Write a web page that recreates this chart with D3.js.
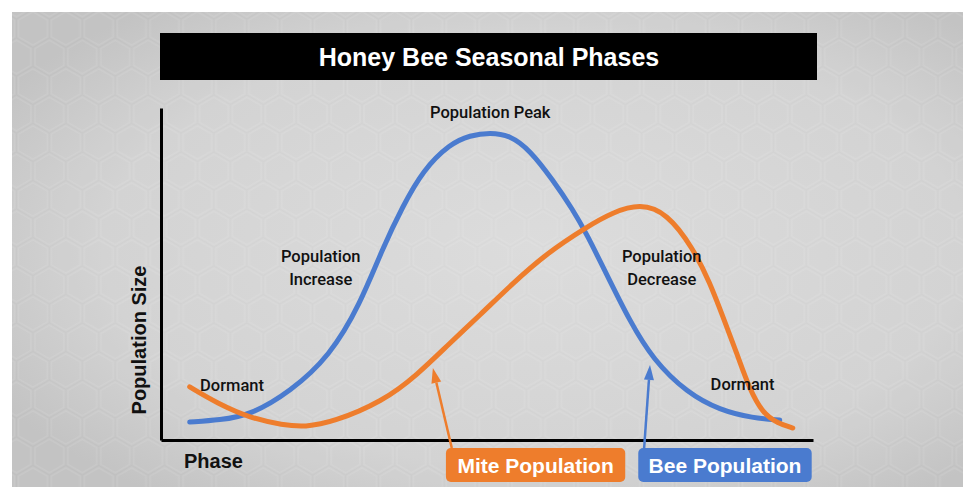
<!DOCTYPE html>
<html>
<head>
<meta charset="utf-8">
<script src="https://cdn.jsdelivr.net/npm/d3@7"></script>
<style>
  body { margin: 0; background: #fff; }
  svg text { font-family: "Liberation Sans", Arial, sans-serif; }
  svg text.phase-label { font-family: Roboto, "Liberation Sans", sans-serif; }
</style>
</head>
<body>
<div id="chart"></div>
<script>
// phase runs 0..100 along x, population size 0..100 up y (relative units)
const beePhase = [4.4, 9.0, 13.7, 19.8, 25.9, 30.5, 34.0, 37.1, 40.2, 44.3, 47.4, 50.5, 53.5, 56.6, 60.1, 63.2, 65.3, 68.4, 71.9, 75.5, 80.7, 85.7, 90.8, 94.9];
const beeSize  = [5.4, 6.0, 7.5, 14.5, 25.3, 40.7, 57.8, 70.5, 81.3, 89.2, 91.8, 92.6, 91.8, 87.3, 78.3, 69.3, 62.0, 49.7, 35.8, 24.1, 14.2, 9.0, 6.6, 6.0];

const mitePhase = [4.4, 8.6, 13.7, 18.7, 22.1, 26.4, 34.0, 39.3, 44.3, 48.9, 54.0, 59.2, 65.3, 69.3, 73.5, 77.6, 81.6, 84.2, 86.2, 88.3, 90.3, 92.3, 94.5, 96.9];
const miteSize  = [16.0, 11.1, 6.6, 4.5, 3.9, 5.4, 11.6, 19.6, 29.2, 37.6, 47.3, 56.3, 64.2, 68.6, 71.2, 68.4, 57.8, 47.3, 37.0, 26.2, 15.1, 8.1, 5.1, 3.6];

// annotations: text lines, phase, size
const phaseLabels = [
  { lines: ["Population Peak"], x: 50.5, y: 97.0 },
  { lines: ["Population", "Increase"], x: 24.5, y: 53.5 },
  { lines: ["Population", "Decrease"], x: 76.8, y: 53.5 },
  { lines: ["Dormant"], x: 10.9, y: 14.8 },
  { lines: ["Dormant"], x: 89.2, y: 15.1 }
];

// legend boxes and the point on the curve each arrow touches
const legendNames = ["Mite Population", "Bee Population"];
const legendStart = [43.7, 73.2];
const legendEnd   = [71.2, 99.8];
const arrowTipX   = [41.7, 75.0];
const arrowTipY   = [21.7, 22.6];
const arrowBaseX  = [44.6, 74.1];
const colors = ["#ee7d2c", "#4a7bcf"];

const W = 966, H = 487;
const margin = { top: 108, right: 153, bottom: 47, left: 161 };
const width = W - margin.left - margin.right,
      height = H - margin.top - margin.bottom;

const svg = d3.select("#chart").append("svg")
    .attr("width", W)
    .attr("height", H);

// grey honeycomb backdrop
const defs = svg.append("defs");
const grad = defs.append("radialGradient")
    .attr("id", "bggrad")
    .attr("cx", "55%").attr("cy", "50%").attr("r", "65%");
grad.append("stop").attr("offset", "0%").attr("stop-color", "#dadada");
grad.append("stop").attr("offset", "70%").attr("stop-color", "#d1d1d1");
grad.append("stop").attr("offset", "100%").attr("stop-color", "#c0c0c0");

const hexR = 19;
const hexW = Math.sqrt(3) * hexR;
const pat = defs.append("pattern")
    .attr("id", "hex")
    .attr("patternUnits", "userSpaceOnUse")
    .attr("width", hexW)
    .attr("height", hexR * 3);
function hexPath(cx, cy, r) {
  let pts = d3.range(6).map(function(i) {
    let a = Math.PI / 3 * i + Math.PI / 6;
    return [cx + r * Math.cos(a), cy + r * Math.sin(a)];
  });
  return "M" + pts.join("L") + "Z";
}
[[hexW / 2, 0], [0, hexR * 1.5], [hexW, hexR * 1.5], [hexW / 2, hexR * 3]].forEach(function(c) {
  pat.append("path")
      .attr("d", hexPath(c[0], c[1], hexR - 2))
      .attr("fill", "#ffffff")
      .attr("fill-opacity", 0.05)
      .attr("stroke", "#ffffff")
      .attr("stroke-opacity", 0.09)
      .attr("stroke-width", 2);
});

svg.append("rect")
    .attr("x", 12).attr("y", 12)
    .attr("width", 951).attr("height", H - 12)
    .attr("fill", "url(#bggrad)");
svg.append("rect")
    .attr("x", 12).attr("y", 12)
    .attr("width", 951).attr("height", H - 12)
    .attr("fill", "url(#hex)");

// title bar
svg.append("rect")
    .attr("x", 160).attr("y", 33)
    .attr("width", 657).attr("height", 47)
    .attr("fill", "#000");
svg.append("text")
    .attr("x", 489).attr("y", 66)
    .attr("text-anchor", "middle")
    .attr("fill", "#fff")
    .style("font-size", "25px")
    .style("font-weight", "bold")
    .text("Honey Bee Seasonal Phases");

const g = svg.append("g")
    .attr("transform", "translate(" + margin.left + "," + margin.top + ")");

const x = d3.scaleLinear().domain([0, 100]).range([0, width]);
const y = d3.scaleLinear().domain([0, 100]).range([height, 0]);

// axes without ticks
g.append("g")
    .attr("transform", "translate(0," + height + ")")
    .call(d3.axisBottom(x).tickValues([]).tickSizeOuter(0))
    .select(".domain").attr("stroke", "#000").attr("stroke-width", 3);
g.append("g")
    .call(d3.axisLeft(y).tickValues([]).tickSizeOuter(0))
    .select(".domain").attr("stroke", "#000").attr("stroke-width", 3);

g.append("text")
    .attr("transform", "rotate(-90)")
    .attr("x", -(height - 100))
    .attr("y", -15)
    .attr("text-anchor", "middle")
    .attr("fill", "#111")
    .style("font-size", "20px")
    .style("font-weight", "bold")
    .text("Population Size");

g.append("text")
    .attr("x", 23)
    .attr("y", height + 28)
    .attr("fill", "#111")
    .style("font-size", "20px")
    .style("font-weight", "bold")
    .text("Phase");

// curves
const line = d3.line()
    .x(function(d) { return x(d[0]); })
    .y(function(d) { return y(d[1]); })
    .curve(d3.curveBasis);

const series = [
  d3.zip(mitePhase, miteSize),
  d3.zip(beePhase, beeSize)
];

// bee first, mite drawn over it
[1, 0].forEach(function(i) {
  g.append("path")
      .datum(series[i])
      .attr("d", line)
      .attr("fill", "none")
      .attr("stroke", colors[i])
      .attr("stroke-width", 5)
      .attr("stroke-linecap", "round");
});

// phase labels
phaseLabels.forEach(function(l) {
  let t = g.append("text")
      .attr("class", "phase-label")
      .attr("x", x(l.x))
      .attr("y", y(l.y))
      .attr("text-anchor", "middle")
      .attr("fill", "#111")
      .style("font-size", "16.5px")
      .style("font-weight", "500");
  l.lines.forEach(function(s, k) {
    t.append("tspan")
        .attr("x", x(l.x))
        .attr("dy", k === 0 ? 0 : "1.35em")
        .text(s);
  });
});

// legend boxes with arrows to the curves
legendNames.forEach(function(name, i) {
  let bx = x(legendStart[i]), bw = x(legendEnd[i]) - x(legendStart[i]);
  let by = height + 8;
  let tipx = x(arrowTipX[i]), tipy = y(arrowTipY[i]);
  let basex = x(arrowBaseX[i]);
  let ang = Math.atan2(tipy - by, tipx - basex);
  let headLen = 15, headW = 5;
  let hx = tipx - headLen * Math.cos(ang), hy = tipy - headLen * Math.sin(ang);
  g.append("line")
      .attr("x1", basex).attr("y1", by)
      .attr("x2", hx).attr("y2", hy)
      .attr("stroke", colors[i])
      .attr("stroke-width", 2.5);
  g.append("path")
      .attr("d", "M" + tipx + "," + tipy +
                 "L" + (hx + headW * Math.sin(ang)) + "," + (hy - headW * Math.cos(ang)) +
                 "L" + (hx - headW * Math.sin(ang)) + "," + (hy + headW * Math.cos(ang)) + "Z")
      .attr("fill", colors[i]);
  g.append("rect")
      .attr("x", bx).attr("y", by)
      .attr("width", bw).attr("height", 34)
      .attr("rx", 5)
      .attr("fill", colors[i]);
  g.append("text")
      .attr("x", bx + bw / 2)
      .attr("y", by + 25)
      .attr("text-anchor", "middle")
      .attr("fill", "#fff")
      .style("font-size", "21px")
      .style("font-weight", "bold")
      .text(name);
});
</script>
</body>
</html>
